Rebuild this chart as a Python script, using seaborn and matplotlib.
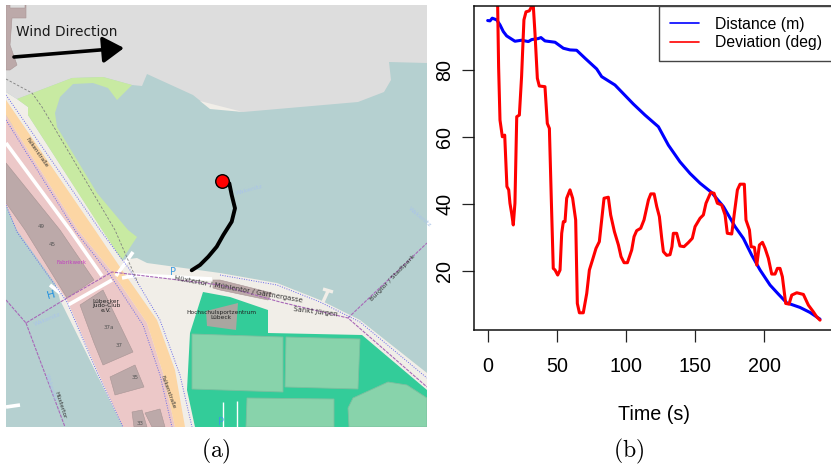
import matplotlib
matplotlib.use("Agg")
import matplotlib.pyplot as plt
from matplotlib.patches import Polygon
import pandas as pd
import seaborn as sns

# Datos (b)
dist_t = [0, 1.7, 3.3, 6.5, 8.9, 11.3, 13.7, 19.7, 24.5, 29.4, 31.8, 36.6, 38.5, 41.4, 48.7, 54.7,
          59.5, 64.3, 70.4, 78.8, 82.4, 92, 105.3, 113.7, 123.4, 130.6, 139, 146.3, 153.5, 161.9,
          170.4, 178.8, 184.8, 190.8, 196.9, 204.1, 210.1, 216.1, 225.8, 233, 240.2]
dist_v = [94.9, 94.8, 95.6, 95.1, 93.6, 91.6, 90.3, 88.7, 89, 88.6, 89.2, 89.5, 89.8, 88.8, 88.4, 86.6,
          86.1, 86, 83.6, 80.4, 78.1, 75.6, 69.9, 66.6, 63.1, 57.6, 52.6, 49.1, 46.2, 43.4,
          39.2, 33.2, 29.7, 24.7, 20.2, 15.7, 13, 10.4, 9, 7.5, 5.5]
dev_t = [5.5, 7.2, 7.9, 8.9, 10.6, 12.3, 13.9, 15.2, 16.1, 17.3, 18.5, 19.7, 21, 22.9, 24.5, 26.2, 27.7,
         30.1, 31.8, 33, 34.2, 35.9, 37.3, 41.4, 43.1, 44.6, 46, 47.4, 48.7, 50.6, 52.3, 53.5, 54.7,
         55.9, 57.1, 59.5, 61.4, 63.6, 64.8, 66.3, 69.1, 71.6, 73.5, 75.9, 78.3, 80.7, 82.4, 84.1,
         87.2, 88.9, 91.6, 94.5, 96.4, 98.6, 101, 104.1, 105.8, 107.7, 110.6, 113, 116.2, 117.9,
         120.3, 122.2, 124.1, 125.8, 127, 129.4, 131.8, 133.2, 134.2, 136.6, 139, 141.9, 145, 147.9,
         149.9, 153.5, 155.9, 157.8, 161.2, 163.6, 166, 169.1, 171.6, 173.2, 176.4, 178.3, 180.5,
         182.4, 185.5, 186.7, 189.2, 190.4, 192.8, 194.5, 196.4, 198.6, 200.5, 202.9, 205.3, 207.7,
         209.4, 211.3, 213, 215.4, 217.8, 219.8, 223.4, 228.2, 231.8, 235.4, 237.8, 240.2]
dev_v = [112, 99.5, 81, 65.1, 60.1, 60.6, 45.2, 44.2, 40.2, 37.2, 33.7, 40.2, 66.1, 66.6, 78.1, 95.1, 97.5,
         97.8, 99.1, 99.1, 91, 77.6, 75.3, 75.1, 64.1, 62.6, 41.2, 20.7, 20.2, 18.7, 20.2, 31.2, 34.7,
         34.7, 41.7, 44.2, 41.7, 35.2, 10.2, 7.4, 7.4, 13.2, 20.2, 23.4, 26.7, 28.7, 35.2, 41.7,
         42, 36.7, 31.7, 27.7, 24.2, 22.4, 22.4, 26.2, 30.2, 32, 32.7, 35.2, 41.2, 43,
         43, 39.2, 36.2, 29.7, 25.7, 24.6, 24.8, 27.2, 31.2, 31.2, 27.4, 27.2, 28.4, 29.7,
         33.2, 35.7, 36.7, 40.2, 43.4, 43.2, 40.2, 39.7, 36.7, 31.2, 31, 37.2, 44.2,
         45.9, 45.9, 35.2, 32.2, 27.2, 27, 21.7, 27.7, 28.5, 26.7, 23.7, 19, 19,
         20.7, 20.7, 18.2, 10.2, 10, 12.7, 13.4, 12.9, 9.7, 7.7, 6.2, 5.2]
x_ticks = [0, 50, 100, 150, 200]
y_ticks = [20, 40, 60, 80]

# Recorrido sobre el mapa (a), en pixeles de la imagen
track_x = [222, 229.3, 231.7, 235, 231.7, 223.3, 216.7, 208.3, 200, 191.7]
track_y = [181, 183.3, 195, 208.3, 221.7, 235, 246.7, 256.7, 265, 270.3]
boat_x = [222]
boat_y = [181]

# Formas del mapa
gray_land = [(6, 5), (427, 5), (427, 63), (389, 62), (391, 80), (384, 92), (358, 102), (243, 112), (230, 110),
             (203, 103), (193, 95), (147, 74), (142, 86), (132, 85), (103, 77), (72, 78), (17, 99), (6, 92)]
shore_strip = [(200, 101), (243, 112), (210, 109)]
park = [(17, 99), (72, 78), (103, 77), (132, 85), (117, 100), (108, 88), (93, 83), (73, 84), (60, 97), (55, 113),
        (57, 127), (97, 193), (128, 230), (137, 237), (133, 243), (122, 260), (102, 230), (28, 115), (28, 107)]
beige = [(6, 92), (17, 99), (28, 107), (28, 115), (122, 260), (137, 258), (147, 263), (220, 273), (277, 283),
         (320, 300), (360, 320), (427, 373), (427, 427), (123, 427), (60, 300), (6, 100)]
pink = [(6, 100), (6, 115), (78, 230), (113, 273), (147, 323), (163, 373), (175, 427), (123, 427), (97, 370),
        (67, 300), (17, 230), (6, 205)]
orange = [(6, 100), (95, 230), (122, 270), (157, 320), (175, 370), (185, 427), (175, 427), (163, 373), (147, 323),
          (113, 273), (78, 230), (6, 115)]
sport = [(203, 292), (230, 297), (268, 310), (268, 333), (362, 335), (427, 390), (427, 427), (195, 427), (187, 390),
         (190, 333)]
fields = [[(192, 334), (283, 337), (283, 392), (192, 389)],
          [(286, 337), (360, 339), (358, 389), (285, 387)],
          [(247, 398), (334, 399), (334, 427), (246, 427)],
          [(348, 408), (353, 398), (388, 382), (407, 385), (427, 398), (427, 427), (349, 427)]]
buildings = [[(6, 163), (60, 230), (94, 280), (67, 298), (25, 230), (6, 203)],
             [(80, 305), (103, 290), (133, 352), (103, 365), (94, 343)],
             [(110, 377), (135, 365), (144, 387), (115, 395)],
             [(132, 412), (142, 410), (147, 427), (134, 427)],
             [(145, 413), (160, 409), (165, 427), (152, 427)],
             [(213, 280), (220, 280), (272, 293), (268, 300), (220, 290), (213, 288)],
             [(6, 5), (10, 5), (10, 8), (25, 8), (25, 5), (26, 5), (26, 18), (12, 18), (10, 45), (17, 65), (10, 70), (6, 70)]]
sports_hall = [(206, 311), (238, 303), (236, 330), (207, 326)]

white_roads = [[(6, 143), (70, 230), (102, 276)], [(68, 305), (112, 280)], [(133, 252), (126, 262), (116, 276)],
               [(122, 278), (137, 275), (212, 279)], [(50, 285), (60, 293)], [(6, 407), (20, 405)]]
field_lines = [[(223, 402), (223, 427)], [(237, 401), (237, 427)]]
piers = [[(328, 291), (323, 302)], [(323, 289), (333, 292)]]
purple_lines = [[(6, 300), (26, 323), (67, 298), (112, 272), (220, 285), (280, 302), (348, 318), (427, 387)],
                [(26, 323), (65, 427)], [(348, 318), (427, 243)]]
blue_dotted = [[(6, 95), (100, 230), (130, 270), (160, 320), (180, 375), (192, 427)],
               [(6, 120), (76, 232), (110, 275), (143, 325), (160, 375), (172, 427)],
               [(6, 205), (17, 232), (67, 302), (97, 372), (123, 427)],
               [(220, 275), (277, 285), (320, 302), (360, 322), (427, 378)]]
gray_dashed = [[(6, 79), (32, 93), (42, 107), (115, 230), (138, 283)]]

map_labels = [("Falkenstraße", 37, 153, -55, "#333333", 4.0), ("Falkenstraße", 168, 392, -70, "#333333", 4.0),
              ("Hüxtertor / Mühlentor / Gärtnergasse", 238, 289, -10, "#333333", 5.0),
              ("Sankt Jürgen", 316, 312, -7, "#333333", 5.0), ("Burgtor / Stadtpark", 393, 278, 46, "#333333", 4.6),
              ("Lübecker\nJudo-Club\ne.V.", 106, 306, 0, "#222222", 4.2),
              ("Hochschulsportzentrum\nLübeck", 221, 315, 0, "#222222", 4.2),
              ("45", 52, 245, 0, "#555555", 4), ("49", 41, 227, 0, "#555555", 4), ("37a", 109, 328, 0, "#555555", 4),
              ("37", 119, 346, 0, "#555555", 4), ("35", 135, 378, 0, "#555555", 4), ("33", 140, 424, 0, "#555555", 4),
              ("Wakenitz", 47, 319, 22, "#aac4e8", 4.5), ("Wakenitz", 249, 190, 15, "#aac4e8", 4.5),
              ("Wakenitz", 420, 217, -40, "#aac4e8", 4.5), ("Wakenitz", 51, 387, -72, "#aac4e8", 4.5),
              ("Fabrikwerk", 72, 263, 0, "#c040c0", 4), ("Hüxtertor", 60, 405, -72, "#333333", 4.2),
              ("P", 173, 272, 0, "#3d9be0", 7), ("P", 221, 422, 0, "#3d9be0", 7), ("H", 51, 295, 15, "#2090e0", 8)]

W, H = 831, 466
fig = plt.figure(figsize=(W / 100, H / 100), dpi=100)
sns.set_style("ticks")
plt.rcParams['font.family'] = ['Liberation Sans', 'DejaVu Sans']
plt.rcParams['mathtext.fontset'] = 'cm'
plt.rcParams['text.color'] = 'black'
plt.rcParams['axes.labelcolor'] = 'black'
plt.rcParams['xtick.labelcolor'] = 'black'
plt.rcParams['ytick.labelcolor'] = 'black'

# --- (a) mapa ---
ax_map = fig.add_axes([6 / W, 1 - 427 / H, 421 / W, 422 / H])
ax_map.set_facecolor("#b5d0d0")
for pts, col in [(beige, "#f1eee8"), (gray_land, "#dddddd"), (shore_strip, "#f1eee8"), (park, "#c8eaa2"),
                 (pink, "#ecc8c8"), (orange, "#fcd6a4"), (sport, "#33cc99")]:
    ax_map.add_patch(Polygon(pts, closed=True, fc=col, ec="none"))
for pts in fields:
    ax_map.add_patch(Polygon(pts, closed=True, fc="#88d3ab", ec="#7cbf9f", lw=0.6))
for pts in buildings:
    ax_map.add_patch(Polygon(pts, closed=True, fc="#bca9a9", ec="#a89595", lw=0.4))
ax_map.add_patch(Polygon(sports_hall, closed=True, fc="#a9a6a0", ec="none"))


def draw_path(pts, **kw):
    ax_map.plot([p[0] for p in pts], [p[1] for p in pts], **kw)


for pts in white_roads:
    draw_path(pts, color="white", lw=2.6, solid_capstyle="butt")
for pts in field_lines:
    draw_path(pts, color="white", lw=1.0, solid_capstyle="butt")
for pts in piers:
    draw_path(pts, color="#f1eee8", lw=2.4, solid_capstyle="butt")
for pts in purple_lines:
    draw_path(pts, color="#a868b8", lw=0.8, ls=(0, (3, 1)))
for pts in blue_dotted:
    draw_path(pts, color="#6a6ae8", lw=0.7, ls=(0, (1, 1.5)))
for pts in gray_dashed:
    draw_path(pts, color="#808080", lw=0.6, ls=(0, (3, 2)))
for txt, x, y, rot, col, size in map_labels:
    ax_map.text(x, y, txt, rotation=rot, color=col, fontsize=size, ha="center", va="center",
                rotation_mode="anchor", linespacing=0.9, family=["DejaVu Sans"])

sns.lineplot(x=track_x, y=track_y, sort=False, estimator=None, color="black", lw=2.8, ax=ax_map, zorder=5)
sns.scatterplot(x=boat_x, y=boat_y, s=95, color="#ff0000", edgecolor="black", linewidth=1, ax=ax_map, zorder=6)

ax_map.text(16, 32, "Wind Direction", fontsize=9.9, color="#1a1a1a", va="center", family=["DejaVu Sans"])
ax_map.annotate("", xy=(124, 48), xytext=(14, 57),
                arrowprops=dict(arrowstyle="-|>,head_length=0.8,head_width=0.5", color="black", lw=2.6,
                                shrinkA=0, shrinkB=0, mutation_scale=16))
ax_map.set_xlim(6, 427)
ax_map.set_ylim(427, 5)
ax_map.set_xticks([])
ax_map.set_yticks([])
sns.despine(ax=ax_map, left=True, bottom=True)

# --- (b) distancia y desviacion ---
x_left, x_right = 474.4, 833
y_top, y_bottom = 6, 329.5
ax = fig.add_axes([x_left / W, 1 - y_bottom / H, (x_right - x_left) / W, (y_bottom - y_top) / H])
df_dist = pd.DataFrame({"t": dist_t, "v": dist_v})
df_dev = pd.DataFrame({"t": dev_t, "v": dev_v})
sns.lineplot(data=df_dist, x="t", y="v", sort=False, estimator=None, color="#0000ff", lw=2.2, ax=ax,
             label="Distance (m)")
sns.lineplot(data=df_dev, x="t", y="v", sort=False, estimator=None, color="#ff0000", lw=2.2, ax=ax,
             label="Deviation (deg)")
ax.set_xlim(-9.6, 249.6)
ax.set_ylim(2.4, 99.25)
ax.set_xticks(x_ticks)
ax.set_yticks(y_ticks)
ax.tick_params(axis="x", length=8.6, width=0.9, pad=11, labelsize=14.2, color="#222222")
ax.tick_params(axis="y", length=8.6, width=0.9, pad=6, labelsize=14.2, labelrotation=90, color="#222222")
for lab in ax.get_yticklabels():
    lab.set_va("center")
ax.set_xlabel("Time (s)", fontsize=14.2, labelpad=21)
ax.set_ylabel("")
for s in ax.spines.values():
    s.set_linewidth(1.1)
    s.set_color("#111111")
ax.spines["right"].set_visible(False)

leg = ax.legend(loc="upper right", bbox_to_anchor=(1.0, 1.0), borderaxespad=0, fontsize=11.3, frameon=True,
                fancybox=False, framealpha=1, edgecolor="#444444", handlelength=1.9, handletextpad=1.0,
                labelspacing=0.2, borderpad=0.7)
leg.get_frame().set_linewidth(1.0)
for line in leg.get_lines():
    line.set_linewidth(1.2)

fig.text(216 / W, 1 - 451 / H, r"$\mathrm{(a)}$", fontsize=17, ha="center", va="center")
fig.text(629 / W, 1 - 451 / H, r"$\mathrm{(b)}$", fontsize=17, ha="center", va="center")

fig.savefig("out.png", dpi=100)
